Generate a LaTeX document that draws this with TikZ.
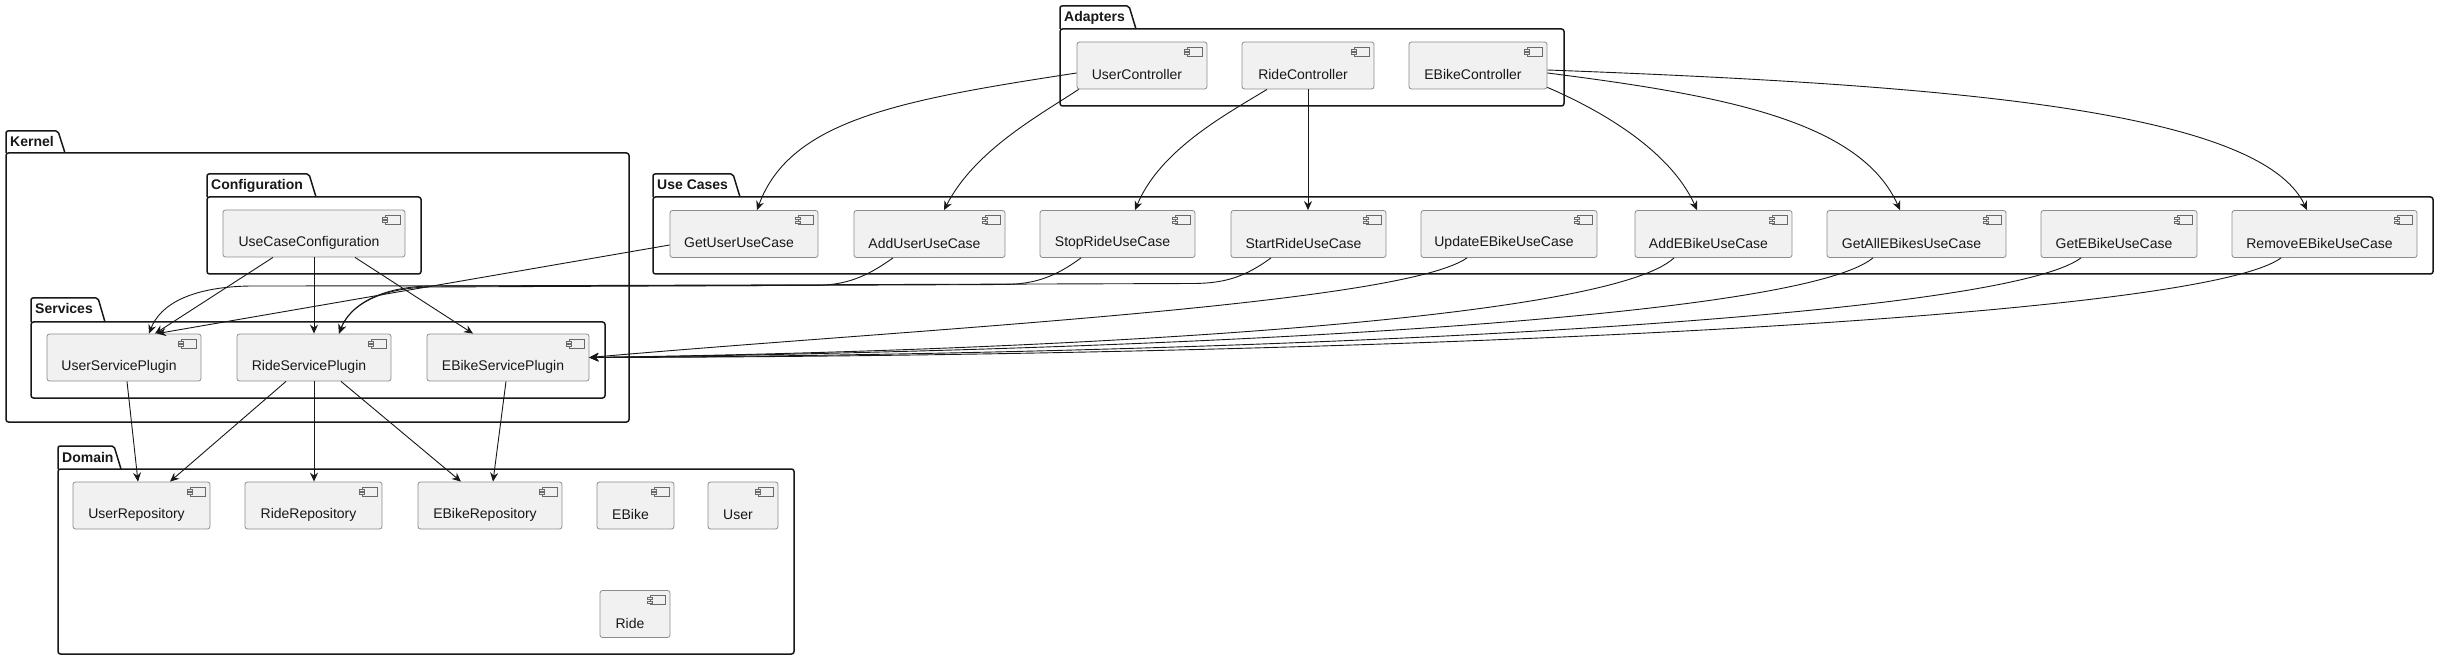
\documentclass[tikz,border=0pt]{standalone}
\usepackage{fontspec}
\setmainfont{Liberation Sans}
\usetikzlibrary{arrows.meta}
\definecolor{compfill}{HTML}{F1F1F1}
\definecolor{compline}{HTML}{8C8C8C}
\definecolor{iconline}{HTML}{6A6A6A}
\definecolor{inkc}{HTML}{181818}
\tikzset{
  comp/.style={draw=compline, line width=0.8pt, fill=compfill, rounded corners=2.5pt,
    minimum height=47pt, inner sep=0pt,
    path picture={
      \draw[iconline, line width=0.6pt, sharp corners, fill=compfill]
        ([xshift=-20pt,yshift=-5pt]path picture bounding box.north east) rectangle
        ([xshift=-5pt,yshift=-14pt]path picture bounding box.north east);
      \draw[iconline, line width=0.6pt, sharp corners, fill=compfill]
        ([xshift=-22.5pt,yshift=-7pt]path picture bounding box.north east) rectangle
        ([xshift=-17.5pt,yshift=-9pt]path picture bounding box.north east);
      \draw[iconline, line width=0.6pt, sharp corners, fill=compfill]
        ([xshift=-22.5pt,yshift=-10.5pt]path picture bounding box.north east) rectangle
        ([xshift=-17.5pt,yshift=-12.5pt]path picture bounding box.north east);
    }},
  lbl/.style={anchor=base, xshift=-5pt, yshift=-9pt, inner sep=0pt, text=inkc,
    font=\fontsize{14}{16}\selectfont},
  pkgline/.style={draw=inkc, line width=1.5pt, line join=round},
  pkglbl/.style={anchor=base west, inner sep=0pt, text=inkc,
    font=\fontsize{14}{16}\selectfont\bfseries},
  arr/.style={draw=inkc, line width=0.9pt,
    -{Stealth[length=9pt,width=8pt,inset=3pt]}},
}
\newcommand{\pkgbox}[8]{%
  \draw[pkgline, rounded corners=2pt] (#2,#5) -- (#2,#4) -- (#3-7,#4) -- (#3,#5);
  \draw[pkgline, rounded corners=2.5pt] (#2,#5) rectangle (#6,#7);
  \node[pkglbl] (#1) at (#2+4,#4+16) {#8};
}
\begin{document}
\begin{tikzpicture}[x=1pt,y=-1pt]
\useasboundingbox[fill=white] (0,0) rectangle (2439,660);

% packages
\pkgbox{adp}{1060}{1136}{6}{29}{1564}{106}{Adapters}
\pkgbox{ker}{6}{65}{131}{153}{629}{422}{Kernel}
\pkgbox{cfg}{207}{316}{174}{197}{421}{274}{Configuration}
\pkgbox{svc}{31}{105}{298}{322}{605}{398}{Services}
\pkgbox{dom}{58}{121}{446}{469}{794}{654}{Domain}
\pkgbox{ucs}{653}{740}{174}{197}{2433}{274}{Use Cases}

% adapters
\node[comp, minimum width=130pt, label={[lbl]center:UserController}] (uctl) at (1142,65.5) {};
\node[comp, minimum width=132pt, label={[lbl]center:RideController}] (rctl) at (1308,65.5) {};
\node[comp, minimum width=138pt, label={[lbl]center:EBikeController}] (ectl) at (1478,65.5) {};

% kernel
\node[comp, minimum width=182pt, label={[lbl]center:UseCaseConfiguration}] (ucc) at (314,233.5) {};
\node[comp, minimum width=154pt, label={[lbl]center:UserServicePlugin}] (usp) at (124,357.5) {};
\node[comp, minimum width=154pt, label={[lbl]center:RideServicePlugin}] (rsp) at (314,357.5) {};
\node[comp, minimum width=162pt, label={[lbl]center:EBikeServicePlugin}] (esp) at (508,357.5) {};

% domain
\node[comp, minimum width=137pt, label={[lbl]center:UserRepository}] (urep) at (141.5,505.5) {};
\node[comp, minimum width=137pt, label={[lbl]center:RideRepository}] (rrep) at (313.5,505.5) {};
\node[comp, minimum width=144pt, label={[lbl]center:EBikeRepository}] (erep) at (490,505.5) {};
\node[comp, minimum width=77pt, label={[lbl]center:EBike}] (ebike) at (635.5,505.5) {};
\node[comp, minimum width=70pt, label={[lbl]center:User}] (user) at (743,505.5) {};
\node[comp, minimum width=70pt, label={[lbl]center:Ride}] (ride) at (635,614) {};

% use cases
\node[comp, minimum width=148pt, label={[lbl]center:GetUserUseCase}] (guc) at (744,234) {};
\node[comp, minimum width=151pt, label={[lbl]center:AddUserUseCase}] (auc) at (929.5,234) {};
\node[comp, minimum width=155pt, label={[lbl]center:StopRideUseCase}] (srs) at (1117.5,234) {};
\node[comp, minimum width=155pt, label={[lbl]center:StartRideUseCase}] (str) at (1308.5,234) {};
\node[comp, minimum width=176pt, label={[lbl]center:UpdateEBikeUseCase}] (ueb) at (1509,234) {};
\node[comp, minimum width=157pt, label={[lbl]center:AddEBikeUseCase}] (aeb) at (1713.5,234) {};
\node[comp, minimum width=179pt, label={[lbl]center:GetAllEBikesUseCase}] (gae) at (1916.5,234) {};
\node[comp, minimum width=156pt, label={[lbl]center:GetEBikeUseCase}] (geb) at (2119,234) {};
\node[comp, minimum width=185pt, label={[lbl]center:RemoveEBikeUseCase}] (reb) at (2324.5,234) {};

% adapters -> use cases
\draw[arr] ([shift={(0,7.5)}]uctl.west) .. controls (900,100) and (790,120) .. ([shift={(13,0)}]guc.north);
\draw[arr] ([shift={(2,0)}]uctl.south west) .. controls (1040,115) and (975,150) .. ([shift={(14.5,0)}]auc.north);
\draw[arr] ([shift={(-41,0)}]rctl.south) .. controls (1225,115) and (1160,150) .. ([shift={(17.5,0)}]srs.north);
\draw[arr] (rctl.south) -- (rctl.south |- str.north);
\draw[arr] ([shift={(0,-2)}]ectl.south east) .. controls (1600,110) and (1670,150) .. ([shift={(-16.5,0)}]aeb.north);
\draw[arr] ([shift={(0,7.5)}]ectl.east) .. controls (1720,95) and (1860,120) .. ([shift={(-16.5,0)}]gae.north);
\draw[arr] ([shift={(0,4.5)}]ectl.east) .. controls (1950,85) and (2260,110) .. ([shift={(-17.5,0)}]reb.north);

% use cases -> services
\draw[arr] ([shift={(0,11)}]guc.west) -- ([shift={(33,0)}]usp.north);
\draw[arr] ([shift={(-36.5,0)}]auc.south) .. controls (865,278) and (845,285) .. (815,285.5)
  -- (250,286) .. controls (190,287) and (160,305) .. ([shift={(25,0)}]usp.north);
\draw[arr] ([shift={(-36.5,0)}]srs.south) .. controls (1055,277) and (1035,284) .. (1005,284.5)
  -- (430,287) .. controls (380,288) and (350,305) .. ([shift={(25,0)}]rsp.north);
\draw[arr] ([shift={(-37.5,0)}]str.south) .. controls (1245,277) and (1225,283) .. (1195,283.5)
  -- (430,286) .. controls (380,287) and (350,305) .. ([shift={(25,0)}]rsp.north);
\draw[arr] ([shift={(-42,0)}]ueb.south) .. controls (1400,305) and (900,330) .. (esp.east);
\draw[arr] ([shift={(-39.5,0)}]aeb.south) .. controls (1610,318) and (1100,350) .. (esp.east);
\draw[arr] ([shift={(-43.5,0)}]gae.south) .. controls (1800,318) and (1200,350) .. (esp.east);
\draw[arr] ([shift={(-38,0)}]geb.south) .. controls (2000,318) and (1300,354) .. (esp.east);
\draw[arr] ([shift={(-43.5,0)}]reb.south) .. controls (2200,318) and (1400,356) .. (esp.east);

% configuration -> services
\draw[arr] ([shift={(-41,0)}]ucc.south) -- ([shift={(31,0)}]usp.north);
\draw[arr] (ucc.south) -- (rsp.north);
\draw[arr] ([shift={(41,0)}]ucc.south) -- ([shift={(-35,0)}]esp.north);

% services -> domain
\draw[arr] ([shift={(3,0)}]usp.south) -- ([shift={(-3.5,0)}]urep.north);
\draw[arr] ([shift={(-28,0)}]rsp.south) -- ([shift={(28.5,0)}]urep.north);
\draw[arr] (rsp.south) -- (rsp.south |- rrep.north);
\draw[arr] ([shift={(27,0)}]rsp.south) -- ([shift={(-29,0)}]erep.north);
\draw[arr] ([shift={(-2,0)}]esp.south) -- ([shift={(3,0)}]erep.north);
\end{tikzpicture}
\end{document}
